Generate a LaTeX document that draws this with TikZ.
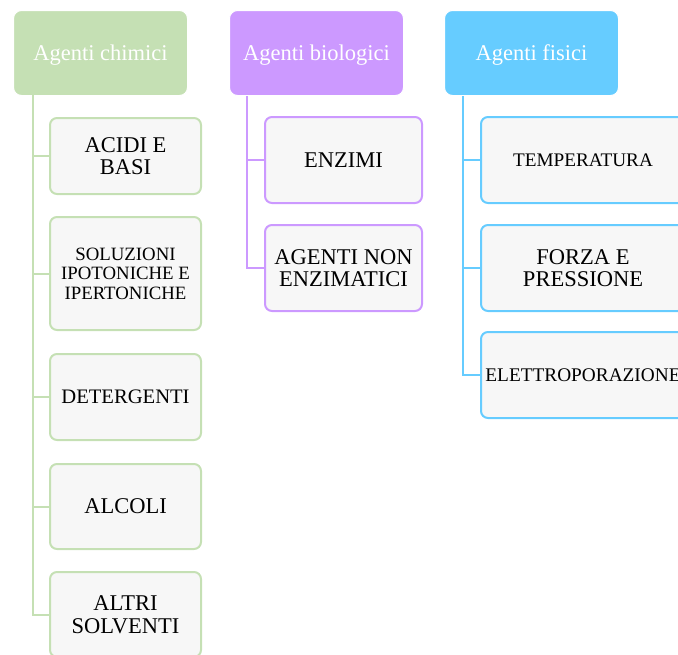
\documentclass[tikz,border=0pt]{standalone}
\usepackage{fontspec}
\setmainfont{Liberation Serif}
\usepackage{tikz}
\usetikzlibrary{positioning}
\usepackage{xcolor}
\definecolor{chimgreen}{HTML}{C5E0B4}
\definecolor{biopurple}{HTML}{CC99FF}
\definecolor{fisblue}{HTML}{66CCFF}
\definecolor{leafgray}{HTML}{F7F7F7}

\begin{document}
\begin{tikzpicture}[x=1pt, y=-1pt,
    head/.style={rounded corners=8pt, draw=white, line width=1pt, text=white,
        font=\fontsize{22.5}{24}\selectfont, text depth=0pt, minimum width=174, minimum height=85, inner sep=0pt},
    leaf/.style={rounded corners=7pt, fill=leafgray, line width=2pt, align=center,
        font=\fontsize{22.5}{22.5}\selectfont, inner sep=0pt, minimum height=86},
    gleaf/.style={leaf, draw=chimgreen, minimum width=151},
    pleaf/.style={leaf, draw=biopurple, minimum width=157},
    bleaf/.style={leaf, draw=fisblue, minimum width=204},
    trunk/.style={line width=2pt}]
    \useasboundingbox (0,0) rectangle (678,654);
    \clip (0,0) rectangle (678,654);

    % Agenti chimici
    \node[head, fill=chimgreen] (chim) at (100.5, 53) {Agenti chimici};
    \node[gleaf, minimum height=76] (acidi) at (125.5, 156) {ACIDI E\\BASI};
    \node[gleaf, minimum height=113, font=\fontsize{18.8}{19.5}\selectfont] (soluz) at (125.5, 273.5)
        {SOLUZIONI\\IPOTONICHE E\\IPERTONICHE};
    \node[gleaf, font=\fontsize{20.6}{22}\selectfont] (deterg) at (125.5, 397) {DETERGENTI};
    \node[gleaf, minimum height=85] (alcoli) at (125.5, 506.5) {ALCOLI};
    \node[gleaf, minimum height=85] (altri) at (125.5, 614.5) {ALTRI\\SOLVENTI};
    \coordinate (chimtrunk) at (33, 95);
    \foreach \leafname in {acidi, soluz, deterg, alcoli, altri}
        \draw[trunk, chimgreen] (chimtrunk) |- (\leafname.west);

    % Agenti biologici
    \node[head, fill=biopurple] (bio) at (316.5, 53) {Agenti biologici};
    \node[pleaf] (enzimi) at (343.5, 160) {ENZIMI};
    \node[pleaf] (nonenz) at (343.5, 268) {AGENTI NON\\ENZIMATICI};
    \coordinate (biotrunk) at (247, 96);
    \foreach \leafname in {enzimi, nonenz}
        \draw[trunk, biopurple] (biotrunk) |- (\leafname.west);

    % Agenti fisici
    \node[head, fill=fisblue] (fis) at (531.5, 53) {Agenti fisici};
    \node[bleaf, font=\fontsize{19.2}{20}\selectfont] (temp) at (583, 160) {TEMPERATURA};
    \node[bleaf] (forza) at (583, 268) {FORZA E\\PRESSIONE};
    \node[bleaf, font=\fontsize{19.3}{20}\selectfont] (elettro) at (583, 375) {ELETTROPORAZIONE};
    \coordinate (fistrunk) at (463, 96);
    \foreach \leafname in {temp, forza, elettro}
        \draw[trunk, fisblue] (fistrunk) |- (\leafname.west);
\end{tikzpicture}
\end{document}
